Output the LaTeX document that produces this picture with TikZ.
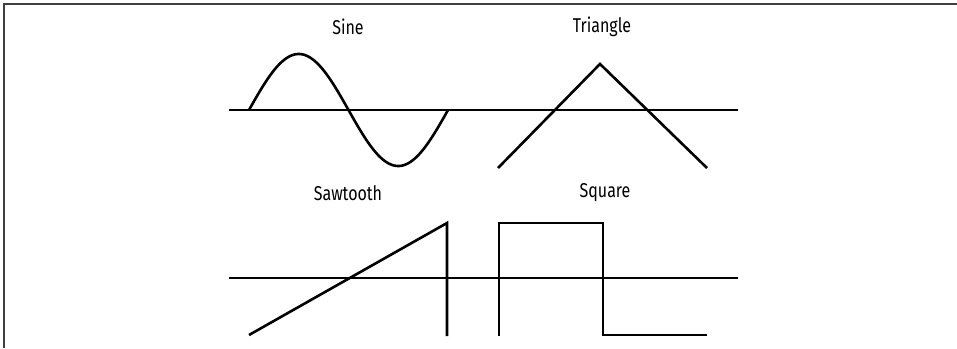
\documentclass[tikz,border=0pt]{standalone}
\usepackage{fontspec}
\setmainfont[FakeStretch=0.8]{Fira Sans}
\begin{document}
\begin{tikzpicture}[x=1pt,y=-1pt,
  wave/.style={line width=2.6pt, black},
  axis/.style={line width=2.6pt, black},
  lbl/.style={font=\fontsize{20}{22}\selectfont, inner sep=0pt, anchor=center}]
\useasboundingbox (0,0) rectangle (957,348);
% frame
\draw[line width=1.2pt, black!75] (4,348) -- (4,4) -- (957,4);
% labels
\node[lbl] (sine) at (348,27) {Sine};
\node[lbl] (tri) at (602,27) {Triangle};
\node[lbl] (saw) at (348,193) {Sawtooth};
\node[lbl] (sq) at (605,193) {Square};
% axes
\draw[axis] (229,110) -- (738,110);
\draw[axis] (229,278) -- (738,278);
% sine
\draw[wave] plot[domain=0:360, samples=120, smooth] ({249+\x*0.5528}, {110-56*sin(\x)});
% triangle
\draw[wave, line join=miter] (498,168) -- (600,64) -- (707,168);
% sawtooth
\draw[wave, line join=miter] (249,335) -- (447,223) -- (447,336);
% square
\draw[wave, line join=miter] (499,336) -- (499,223) -- (603,223) -- (603,335) -- (707,335);
\end{tikzpicture}
\end{document}
